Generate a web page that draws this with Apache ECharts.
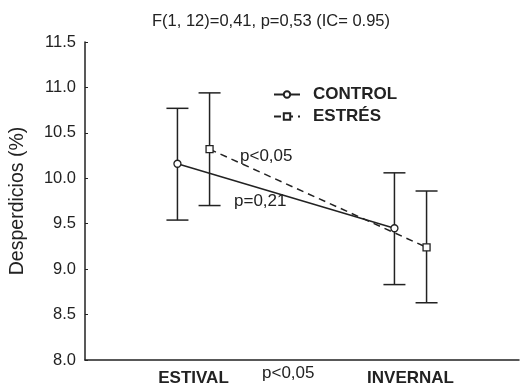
<!DOCTYPE html>
<html>
<head>
<meta charset="utf-8">
<script src="https://cdn.jsdelivr.net/npm/echarts@6/dist/echarts.min.js"></script>
<style>
    html, body { margin: 0; padding: 0; background: #fff; }
    #chart-box { width: 521px; height: 389px; }
</style>
</head>
<body>
<div id="chart-box"></div>
<script>
var categories = ['ESTIVAL', 'INVERNAL'];
var yTicks = ['8.0', '8.5', '9.0', '9.5', '10.0', '10.5', '11.0', '11.5'];

var controlMean = [10.16, 9.45];
var controlLow = [9.54, 8.83];
var controlHigh = [10.77, 10.06];

var estresMean = [10.32, 9.24];
var estresLow = [9.70, 8.63];
var estresHigh = [10.94, 9.86];

var ink = '#222';
var font = "'Liberation Sans', Arial, sans-serif";
// horizontal shift of each group inside its category (category width = 1)
var shift = 0.074;

function pts(mean, dx) {
    return mean.map(function (v, i) { return [i + dx, v]; });
}
function bars(low, high, dx) {
    return low.map(function (v, i) { return [i + dx, v, high[i]]; });
}

function errorBar(params, api) {
    var lo = api.coord([api.value(0), api.value(1)]);
    var hi = api.coord([api.value(0), api.value(2)]);
    var w = 11;
    var st = { stroke: ink, lineWidth: 1.5 };
    return {
        type: 'group',
        children: [
            { type: 'line', shape: { x1: lo[0], y1: lo[1], x2: hi[0], y2: hi[1] }, style: st },
            { type: 'line', shape: { x1: lo[0] - w, y1: lo[1], x2: lo[0] + w, y2: lo[1] }, style: st },
            { type: 'line', shape: { x1: hi[0] - w, y1: hi[1], x2: hi[0] + w, y2: hi[1] }, style: st }
        ]
    };
}

var chart = echarts.init(document.getElementById('chart-box'));
var option = {
    animation: false,
    title: {
        text: 'F(1, 12)=0,41, p=0,53 (IC= 0.95)',
        left: 266,
        textAlign: 'center',
        top: 8,
        textStyle: { color: ink, fontSize: 16.5, fontWeight: 'normal', fontFamily: font }
    },
    legend: {
        orient: 'vertical',
        left: 268,
        top: 81,
        itemGap: 5,
        itemWidth: 26,
        itemHeight: 8,
        data: ['CONTROL', 'ESTRÉS'],
        textStyle: { color: ink, fontSize: 17, fontWeight: 'bold', fontFamily: font, padding: [0, 0, 0, 8] }
    },
    grid: { left: 83, right: 2, top: 42, bottom: 29 },
    xAxis: [{
        type: 'category',
        data: categories,
        axisLine: { lineStyle: { color: ink, width: 1.5 } },
        axisTick: { alignWithLabel: true, inside: true, length: 4, lineStyle: { color: ink } },
        axisLabel: { color: ink, fontSize: 17, fontWeight: 'bold', fontFamily: font, margin: 10 },
        splitLine: { show: false }
    }, {
        type: 'value',
        min: -0.5,
        max: 1.5,
        show: false
    }],
    yAxis: {
        type: 'value',
        min: 8,
        max: 11.5,
        interval: 0.5,
        name: 'Desperdicios (%)',
        nameLocation: 'middle',
        nameGap: 57,
        nameTextStyle: { color: ink, fontSize: 19.5, fontFamily: font },
        axisLine: { show: true, onZero: false, lineStyle: { color: ink, width: 1.5 } },
        axisTick: { show: true, inside: true, length: 3, lineStyle: { color: ink } },
        axisLabel: {
            color: ink, fontSize: 16.5, fontFamily: font, margin: 9,
            formatter: function (v) { return yTicks[Math.round((v - 8) / 0.5)]; }
        },
        splitLine: { show: false }
    },
    graphic: [
        { type: 'text', left: 240, top: 148, style: { text: 'p<0,05', fill: ink, font: '17px ' + font } },
        { type: 'text', left: 234, top: 193, style: { text: 'p=0,21', fill: ink, font: '17px ' + font } },
        { type: 'text', left: 262, top: 365, style: { text: 'p<0,05', fill: ink, font: '17px ' + font } }
    ],
    series: [{
        type: 'custom',
        xAxisIndex: 1,
        renderItem: errorBar,
        data: bars(controlLow, controlHigh, -shift),
        z: 1
    }, {
        type: 'custom',
        xAxisIndex: 1,
        renderItem: errorBar,
        data: bars(estresLow, estresHigh, shift),
        z: 1
    }, {
        name: 'CONTROL',
        type: 'line',
        xAxisIndex: 1,
        data: pts(controlMean, -shift),
        symbol: 'circle',
        symbolSize: 7,
        lineStyle: { color: ink, width: 1.5 },
        itemStyle: { color: '#fff', borderColor: ink, borderWidth: 1.3 },
        z: 3
    }, {
        name: 'ESTRÉS',
        type: 'line',
        xAxisIndex: 1,
        data: pts(estresMean, shift),
        symbol: 'rect',
        symbolSize: 7,
        lineStyle: { color: ink, width: 1.5, type: [7, 5] },
        itemStyle: { color: '#fff', borderColor: ink, borderWidth: 1.3 },
        z: 3
    }]
};
chart.setOption(option);
</script>
</body>
</html>
